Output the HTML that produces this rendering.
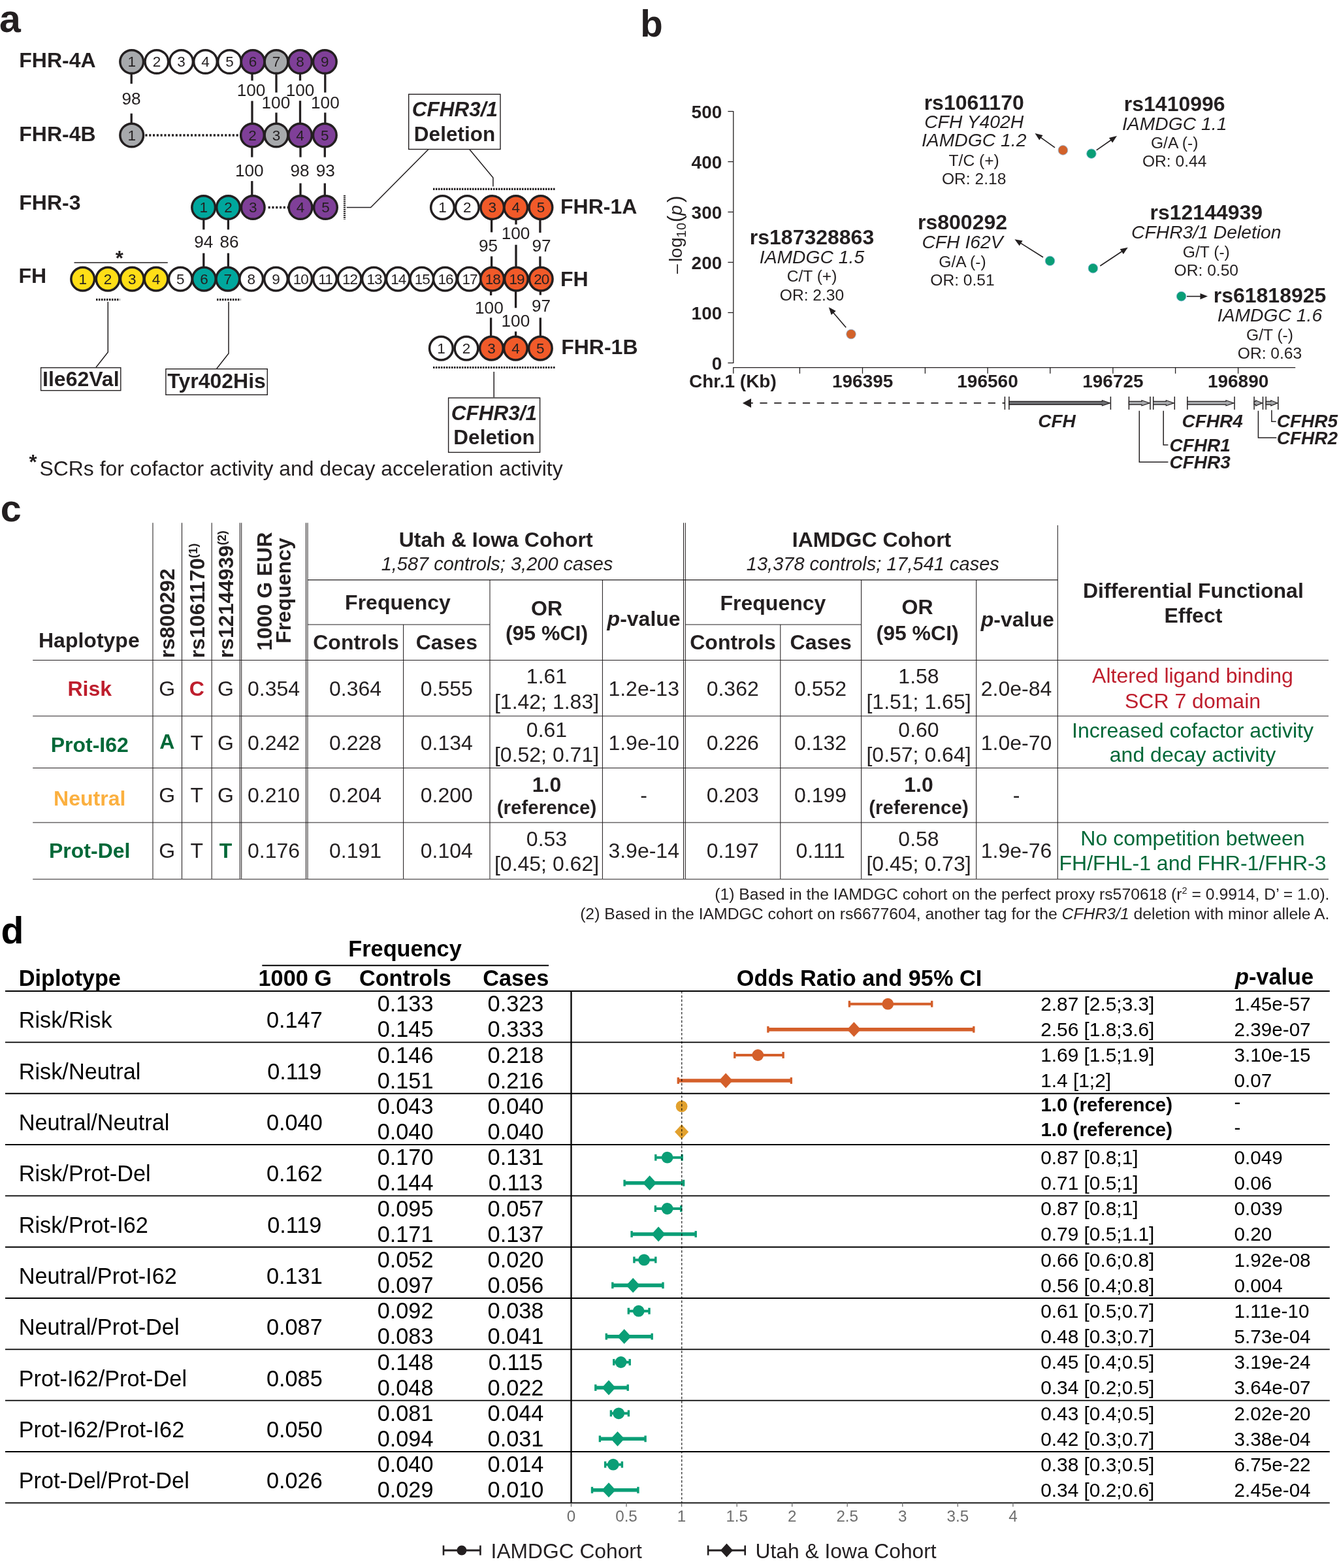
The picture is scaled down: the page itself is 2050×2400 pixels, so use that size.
<!DOCTYPE html>
<html lang="en">
<head>
<meta charset="utf-8">
<title>Figure</title>
<style>
html,body{margin:0;padding:0;background:#fff;}
body{width:2050px;height:2400px;overflow:hidden;}
svg{display:block;font-family:"Liberation Sans",sans-serif;fill:#231f20;}
</style>
</head>
<body>
<svg width="2050" height="2400" viewBox="0 0 2050 2400">
<rect x="0" y="0" width="2050" height="2400" fill="#ffffff" stroke="none"/>
<g id="panel-a">
<text x="-1.0" y="48.8" font-size="59" font-weight="bold">a</text>
<text x="29.3" y="102.8" font-size="32" font-weight="bold">FHR-4A</text>
<text x="29.3" y="216.2" font-size="32" font-weight="bold">FHR-4B</text>
<text x="29.3" y="320.5" font-size="32" font-weight="bold">FHR-3</text>
<text x="28.5" y="432.7" font-size="32" font-weight="bold">FH</text>
<text x="858.0" y="327.2" font-size="32" font-weight="bold">FHR-1A</text>
<text x="858.0" y="438.2" font-size="32" font-weight="bold">FH</text>
<text x="859.2" y="541.5" font-size="32" font-weight="bold">FHR-1B</text>
<line x1="201.2" y1="110.0" x2="201.2" y2="128.2" stroke="#231f20" stroke-width="3.3"/>
<text x="201.1" y="160.0" font-size="26.2" text-anchor="middle">98</text>
<line x1="201.2" y1="173.7" x2="201.2" y2="190.0" stroke="#231f20" stroke-width="3.3"/>
<line x1="386.0" y1="110.0" x2="386.0" y2="123.4" stroke="#231f20" stroke-width="3.3"/>
<text x="384.6" y="147.4" font-size="26.2" text-anchor="middle">100</text>
<line x1="386.0" y1="154.5" x2="386.0" y2="190.0" stroke="#231f20" stroke-width="3.3"/>
<line x1="423.0" y1="110.0" x2="423.0" y2="141.6" stroke="#231f20" stroke-width="3.3"/>
<text x="422.4" y="166.0" font-size="26.2" text-anchor="middle">100</text>
<line x1="423.0" y1="172.4" x2="423.0" y2="190.0" stroke="#231f20" stroke-width="3.3"/>
<line x1="459.5" y1="110.0" x2="459.5" y2="123.4" stroke="#231f20" stroke-width="3.3"/>
<text x="459.5" y="147.4" font-size="26.2" text-anchor="middle">100</text>
<line x1="459.5" y1="154.2" x2="459.5" y2="190.0" stroke="#231f20" stroke-width="3.3"/>
<line x1="497.8" y1="110.0" x2="497.8" y2="141.6" stroke="#231f20" stroke-width="3.3"/>
<text x="497.9" y="166.0" font-size="26.2" text-anchor="middle">100</text>
<line x1="497.8" y1="172.4" x2="497.8" y2="190.0" stroke="#231f20" stroke-width="3.3"/>
<line x1="385.8" y1="222.0" x2="385.8" y2="240.6" stroke="#231f20" stroke-width="3.3"/>
<text x="381.8" y="270.3" font-size="26.2" text-anchor="middle">100</text>
<line x1="385.8" y1="277.1" x2="385.8" y2="300.0" stroke="#231f20" stroke-width="3.3"/>
<line x1="460.0" y1="222.0" x2="460.0" y2="240.6" stroke="#231f20" stroke-width="3.3"/>
<text x="459.0" y="270.3" font-size="26.2" text-anchor="middle">98</text>
<line x1="460.0" y1="280.5" x2="460.0" y2="300.0" stroke="#231f20" stroke-width="3.3"/>
<line x1="497.3" y1="222.0" x2="497.3" y2="240.6" stroke="#231f20" stroke-width="3.3"/>
<text x="498.2" y="270.3" font-size="26.2" text-anchor="middle">93</text>
<line x1="497.3" y1="280.5" x2="497.3" y2="300.0" stroke="#231f20" stroke-width="3.3"/>
<line x1="311.8" y1="333.0" x2="311.8" y2="351.4" stroke="#231f20" stroke-width="3.3"/>
<text x="311.7" y="378.9" font-size="26.2" text-anchor="middle">94</text>
<line x1="311.8" y1="387.5" x2="311.8" y2="410.0" stroke="#231f20" stroke-width="3.3"/>
<line x1="349.4" y1="333.0" x2="349.4" y2="351.4" stroke="#231f20" stroke-width="3.3"/>
<text x="351.0" y="378.9" font-size="26.2" text-anchor="middle">86</text>
<line x1="349.4" y1="387.5" x2="349.4" y2="410.0" stroke="#231f20" stroke-width="3.3"/>
<line x1="752.6" y1="333.0" x2="752.6" y2="355.5" stroke="#231f20" stroke-width="3.3"/>
<text x="747.6" y="385.3" font-size="26.2" text-anchor="middle">95</text>
<line x1="752.6" y1="392.4" x2="752.6" y2="410.0" stroke="#231f20" stroke-width="3.3"/>
<line x1="790.0" y1="333.0" x2="790.0" y2="343.6" stroke="#231f20" stroke-width="3.3"/>
<text x="789.5" y="365.5" font-size="26.2" text-anchor="middle">100</text>
<line x1="790.0" y1="374.7" x2="790.0" y2="410.0" stroke="#231f20" stroke-width="3.3"/>
<line x1="826.9" y1="333.0" x2="826.9" y2="356.2" stroke="#231f20" stroke-width="3.3"/>
<text x="829.0" y="385.3" font-size="26.2" text-anchor="middle">97</text>
<line x1="826.9" y1="392.4" x2="826.9" y2="410.0" stroke="#231f20" stroke-width="3.3"/>
<line x1="751.6" y1="442.0" x2="751.6" y2="452.1" stroke="#231f20" stroke-width="3.3"/>
<text x="748.9" y="480.3" font-size="26.2" text-anchor="middle">100</text>
<line x1="751.6" y1="486.3" x2="751.6" y2="518.0" stroke="#231f20" stroke-width="3.3"/>
<line x1="789.6" y1="442.0" x2="789.6" y2="471.3" stroke="#231f20" stroke-width="3.3"/>
<text x="789.4" y="500.1" font-size="26.2" text-anchor="middle">100</text>
<line x1="789.6" y1="507.4" x2="789.6" y2="518.0" stroke="#231f20" stroke-width="3.3"/>
<line x1="827.3" y1="442.0" x2="827.3" y2="451.6" stroke="#231f20" stroke-width="3.3"/>
<text x="828.6" y="477.0" font-size="26.2" text-anchor="middle">97</text>
<line x1="827.3" y1="486.3" x2="827.3" y2="518.0" stroke="#231f20" stroke-width="3.3"/>
<line x1="222.4" y1="207.0" x2="368.0" y2="207.0" stroke="#231f20" stroke-width="3.3" stroke-dasharray="3.1 2.7"/>
<line x1="410.6" y1="317.5" x2="441.5" y2="317.5" stroke="#231f20" stroke-width="3.3" stroke-dasharray="3.1 2.7"/>
<line x1="527.5" y1="299.0" x2="527.5" y2="335.8" stroke="#231f20" stroke-width="3.2" stroke-dasharray="1.8 1.2"/>
<line x1="663.0" y1="289.4" x2="850.0" y2="289.4" stroke="#231f20" stroke-width="3.2" stroke-dasharray="2.5 1.5"/>
<line x1="663.0" y1="562.5" x2="850.0" y2="562.5" stroke="#231f20" stroke-width="3.2" stroke-dasharray="2.5 1.5"/>
<line x1="147.0" y1="458.6" x2="183.5" y2="458.6" stroke="#231f20" stroke-width="3.2" stroke-dasharray="2.5 1.5"/>
<line x1="332.0" y1="458.6" x2="368.5" y2="458.6" stroke="#231f20" stroke-width="3.2" stroke-dasharray="2.5 1.5"/>
<path d="M530.7 317.5 L567.6 317.5 L656 228.5" stroke="#231f20" stroke-width="1.5" fill="none"/>
<path d="M718.7 228.5 L754.9 272 L754.9 285.4" stroke="#231f20" stroke-width="1.5" fill="none"/>
<path d="M756.2 568.9 L756.2 608" stroke="#231f20" stroke-width="1.5" fill="none"/>
<path d="M165.3 462 L165.3 539 L147 562.3" stroke="#231f20" stroke-width="1.5" fill="none"/>
<path d="M350 462 L350 541 L331.4 564.7" stroke="#231f20" stroke-width="1.5" fill="none"/>
<line x1="113.5" y1="402.0" x2="256.8" y2="402.0" stroke="#231f20" stroke-width="1.6"/>
<text x="182.9" y="405.5" font-size="31" font-weight="bold" text-anchor="middle">*</text>
<rect x="625.7" y="144.3" width="140.3" height="84.2" fill="#fff" stroke="#231f20" stroke-width="1.4"/>
<text x="696.5" y="178.0" font-size="31.5" font-weight="bold" font-style="italic" text-anchor="middle">CFHR3/1</text>
<text x="696.0" y="215.5" font-size="31.5" font-weight="bold" text-anchor="middle">Deletion</text>
<rect x="686.6" y="609.0" width="140.0" height="83.4" fill="#fff" stroke="#231f20" stroke-width="1.4"/>
<text x="756.5" y="642.6" font-size="31.5" font-weight="bold" font-style="italic" text-anchor="middle">CFHR3/1</text>
<text x="756.5" y="680.0" font-size="31.5" font-weight="bold" text-anchor="middle">Deletion</text>
<rect x="62.6" y="562.8" width="122.2" height="34.9" fill="#fff" stroke="#231f20" stroke-width="1.4"/>
<text x="123.8" y="591.2" font-size="32" font-weight="bold" text-anchor="middle">Ile62Val</text>
<rect x="253.9" y="564.7" width="155.4" height="39.6" fill="#fff" stroke="#231f20" stroke-width="1.4"/>
<text x="331.6" y="594.0" font-size="32" font-weight="bold" text-anchor="middle">Tyr402His</text>
<circle cx="201.7" cy="94.5" r="17.85" fill="#a7a9ac" stroke="#231f20" stroke-width="3.5"/>
<text x="201.7" y="102.2" font-size="22.5" text-anchor="middle">1</text>
<circle cx="239.9" cy="94.5" r="17.85" fill="#ffffff" stroke="#231f20" stroke-width="3.5"/>
<text x="239.9" y="102.2" font-size="22.5" text-anchor="middle">2</text>
<circle cx="277.6" cy="94.5" r="17.85" fill="#ffffff" stroke="#231f20" stroke-width="3.5"/>
<text x="277.6" y="102.2" font-size="22.5" text-anchor="middle">3</text>
<circle cx="314.5" cy="94.5" r="17.85" fill="#ffffff" stroke="#231f20" stroke-width="3.5"/>
<text x="314.5" y="102.2" font-size="22.5" text-anchor="middle">4</text>
<circle cx="351.5" cy="94.5" r="17.85" fill="#ffffff" stroke="#231f20" stroke-width="3.5"/>
<text x="351.5" y="102.2" font-size="22.5" text-anchor="middle">5</text>
<circle cx="387.1" cy="94.5" r="17.85" fill="#7f3f98" stroke="#231f20" stroke-width="3.5"/>
<text x="387.1" y="102.2" font-size="22.5" text-anchor="middle">6</text>
<circle cx="423.0" cy="94.5" r="17.85" fill="#a7a9ac" stroke="#231f20" stroke-width="3.5"/>
<text x="423.0" y="102.2" font-size="22.5" text-anchor="middle">7</text>
<circle cx="459.5" cy="94.5" r="17.85" fill="#7f3f98" stroke="#231f20" stroke-width="3.5"/>
<text x="459.5" y="102.2" font-size="22.5" text-anchor="middle">8</text>
<circle cx="497.3" cy="94.5" r="17.85" fill="#7f3f98" stroke="#231f20" stroke-width="3.5"/>
<text x="497.3" y="102.2" font-size="22.5" text-anchor="middle">9</text>
<circle cx="201.7" cy="207.0" r="17.85" fill="#a7a9ac" stroke="#231f20" stroke-width="3.5"/>
<text x="201.7" y="214.7" font-size="22.5" text-anchor="middle">1</text>
<circle cx="386.5" cy="207.0" r="17.85" fill="#7f3f98" stroke="#231f20" stroke-width="3.5"/>
<text x="386.5" y="214.7" font-size="22.5" text-anchor="middle">2</text>
<circle cx="423.0" cy="207.0" r="17.85" fill="#a7a9ac" stroke="#231f20" stroke-width="3.5"/>
<text x="423.0" y="214.7" font-size="22.5" text-anchor="middle">3</text>
<circle cx="459.5" cy="207.0" r="17.85" fill="#7f3f98" stroke="#231f20" stroke-width="3.5"/>
<text x="459.5" y="214.7" font-size="22.5" text-anchor="middle">4</text>
<circle cx="497.3" cy="207.0" r="17.85" fill="#7f3f98" stroke="#231f20" stroke-width="3.5"/>
<text x="497.3" y="214.7" font-size="22.5" text-anchor="middle">5</text>
<circle cx="311.7" cy="317.5" r="17.85" fill="#00a79d" stroke="#231f20" stroke-width="3.5"/>
<text x="311.7" y="325.2" font-size="22.5" text-anchor="middle">1</text>
<circle cx="349.5" cy="317.5" r="17.85" fill="#00a79d" stroke="#231f20" stroke-width="3.5"/>
<text x="349.5" y="325.2" font-size="22.5" text-anchor="middle">2</text>
<circle cx="387.2" cy="317.5" r="17.85" fill="#7f3f98" stroke="#231f20" stroke-width="3.5"/>
<text x="387.2" y="325.2" font-size="22.5" text-anchor="middle">3</text>
<circle cx="460.0" cy="317.5" r="17.85" fill="#7f3f98" stroke="#231f20" stroke-width="3.5"/>
<text x="460.0" y="325.2" font-size="22.5" text-anchor="middle">4</text>
<circle cx="498.4" cy="317.5" r="17.85" fill="#7f3f98" stroke="#231f20" stroke-width="3.5"/>
<text x="498.4" y="325.2" font-size="22.5" text-anchor="middle">5</text>
<circle cx="126.7" cy="427.1" r="17.85" fill="#ffde17" stroke="#231f20" stroke-width="3.5"/>
<text x="126.7" y="434.8" font-size="22.5" text-anchor="middle">1</text>
<circle cx="165.1" cy="427.1" r="17.85" fill="#ffde17" stroke="#231f20" stroke-width="3.5"/>
<text x="165.1" y="434.8" font-size="22.5" text-anchor="middle">2</text>
<circle cx="202.3" cy="427.1" r="17.85" fill="#ffde17" stroke="#231f20" stroke-width="3.5"/>
<text x="202.3" y="434.8" font-size="22.5" text-anchor="middle">3</text>
<circle cx="239.0" cy="427.1" r="17.85" fill="#ffde17" stroke="#231f20" stroke-width="3.5"/>
<text x="239.0" y="434.8" font-size="22.5" text-anchor="middle">4</text>
<circle cx="276.3" cy="427.1" r="17.85" fill="#ffffff" stroke="#231f20" stroke-width="3.5"/>
<text x="276.3" y="434.8" font-size="22.5" text-anchor="middle">5</text>
<circle cx="312.4" cy="427.1" r="17.85" fill="#00a79d" stroke="#231f20" stroke-width="3.5"/>
<text x="312.4" y="434.8" font-size="22.5" text-anchor="middle">6</text>
<circle cx="348.8" cy="427.1" r="17.85" fill="#00a79d" stroke="#231f20" stroke-width="3.5"/>
<text x="348.8" y="434.8" font-size="22.5" text-anchor="middle">7</text>
<circle cx="384.7" cy="427.1" r="17.85" fill="#ffffff" stroke="#231f20" stroke-width="3.5"/>
<text x="384.7" y="434.8" font-size="22.5" text-anchor="middle">8</text>
<circle cx="422.5" cy="427.1" r="17.85" fill="#ffffff" stroke="#231f20" stroke-width="3.5"/>
<text x="422.5" y="434.8" font-size="22.5" text-anchor="middle">9</text>
<circle cx="459.7" cy="427.1" r="17.85" fill="#ffffff" stroke="#231f20" stroke-width="3.5"/>
<text x="460.2" y="434.8" font-size="22.5" text-anchor="middle" letter-spacing="-1">10</text>
<circle cx="497.5" cy="427.1" r="17.85" fill="#ffffff" stroke="#231f20" stroke-width="3.5"/>
<text x="498.0" y="434.8" font-size="22.5" text-anchor="middle" letter-spacing="-1">11</text>
<circle cx="535.1" cy="427.1" r="17.85" fill="#ffffff" stroke="#231f20" stroke-width="3.5"/>
<text x="535.6" y="434.8" font-size="22.5" text-anchor="middle" letter-spacing="-1">12</text>
<circle cx="572.4" cy="427.1" r="17.85" fill="#ffffff" stroke="#231f20" stroke-width="3.5"/>
<text x="572.9" y="434.8" font-size="22.5" text-anchor="middle" letter-spacing="-1">13</text>
<circle cx="609.3" cy="427.1" r="17.85" fill="#ffffff" stroke="#231f20" stroke-width="3.5"/>
<text x="609.8" y="434.8" font-size="22.5" text-anchor="middle" letter-spacing="-1">14</text>
<circle cx="645.8" cy="427.1" r="17.85" fill="#ffffff" stroke="#231f20" stroke-width="3.5"/>
<text x="646.3" y="434.8" font-size="22.5" text-anchor="middle" letter-spacing="-1">15</text>
<circle cx="681.4" cy="427.1" r="17.85" fill="#ffffff" stroke="#231f20" stroke-width="3.5"/>
<text x="681.9" y="434.8" font-size="22.5" text-anchor="middle" letter-spacing="-1">16</text>
<circle cx="718.4" cy="427.1" r="17.85" fill="#ffffff" stroke="#231f20" stroke-width="3.5"/>
<text x="718.9" y="434.8" font-size="22.5" text-anchor="middle" letter-spacing="-1">17</text>
<circle cx="753.7" cy="427.1" r="17.85" fill="#f15a29" stroke="#231f20" stroke-width="3.5"/>
<text x="754.2" y="434.8" font-size="22.5" text-anchor="middle" letter-spacing="-1">18</text>
<circle cx="790.4" cy="427.1" r="17.85" fill="#f15a29" stroke="#231f20" stroke-width="3.5"/>
<text x="790.9" y="434.8" font-size="22.5" text-anchor="middle" letter-spacing="-1">19</text>
<circle cx="828.2" cy="427.1" r="17.85" fill="#f15a29" stroke="#231f20" stroke-width="3.5"/>
<text x="828.7" y="434.8" font-size="22.5" text-anchor="middle" letter-spacing="-1">20</text>
<circle cx="677.5" cy="317.6" r="17.85" fill="#ffffff" stroke="#231f20" stroke-width="3.5"/>
<text x="677.5" y="325.3" font-size="22.5" text-anchor="middle">1</text>
<circle cx="715.3" cy="317.6" r="17.85" fill="#ffffff" stroke="#231f20" stroke-width="3.5"/>
<text x="715.3" y="325.3" font-size="22.5" text-anchor="middle">2</text>
<circle cx="753.7" cy="317.6" r="17.85" fill="#f15a29" stroke="#231f20" stroke-width="3.5"/>
<text x="753.7" y="325.3" font-size="22.5" text-anchor="middle">3</text>
<circle cx="789.8" cy="317.6" r="17.85" fill="#f15a29" stroke="#231f20" stroke-width="3.5"/>
<text x="789.8" y="325.3" font-size="22.5" text-anchor="middle">4</text>
<circle cx="827.9" cy="317.6" r="17.85" fill="#f15a29" stroke="#231f20" stroke-width="3.5"/>
<text x="827.9" y="325.3" font-size="22.5" text-anchor="middle">5</text>
<circle cx="675.4" cy="533.2" r="17.85" fill="#ffffff" stroke="#231f20" stroke-width="3.5"/>
<text x="675.4" y="540.9" font-size="22.5" text-anchor="middle">1</text>
<circle cx="714.0" cy="533.2" r="17.85" fill="#ffffff" stroke="#231f20" stroke-width="3.5"/>
<text x="714.0" y="540.9" font-size="22.5" text-anchor="middle">2</text>
<circle cx="752.4" cy="533.2" r="17.85" fill="#f15a29" stroke="#231f20" stroke-width="3.5"/>
<text x="752.4" y="540.9" font-size="22.5" text-anchor="middle">3</text>
<circle cx="789.4" cy="533.2" r="17.85" fill="#f15a29" stroke="#231f20" stroke-width="3.5"/>
<text x="789.4" y="540.9" font-size="22.5" text-anchor="middle">4</text>
<circle cx="827.3" cy="533.2" r="17.85" fill="#f15a29" stroke="#231f20" stroke-width="3.5"/>
<text x="827.3" y="540.9" font-size="22.5" text-anchor="middle">5</text>
<text x="44.5" y="718.2" font-size="31" font-weight="bold">*</text>
<text x="60.5" y="727.6" font-size="31.9">SCRs for cofactor activity and decay acceleration activity</text>
</g>
<g id="panel-b">
<text x="980.3" y="55.6" font-size="56.5" font-weight="bold">b</text>
<line x1="1122.8" y1="169.9" x2="1122.8" y2="556.1" stroke="#231f20" stroke-width="1.3"/>
<line x1="1114.4" y1="170.5" x2="1122.8" y2="170.5" stroke="#231f20" stroke-width="1.3"/>
<text x="1105.3" y="180.7" font-size="28" font-weight="bold" text-anchor="end">500</text>
<line x1="1114.4" y1="247.5" x2="1122.8" y2="247.5" stroke="#231f20" stroke-width="1.3"/>
<text x="1105.3" y="257.7" font-size="28" font-weight="bold" text-anchor="end">400</text>
<line x1="1114.4" y1="324.5" x2="1122.8" y2="324.5" stroke="#231f20" stroke-width="1.3"/>
<text x="1105.3" y="334.7" font-size="28" font-weight="bold" text-anchor="end">300</text>
<line x1="1114.4" y1="401.5" x2="1122.8" y2="401.5" stroke="#231f20" stroke-width="1.3"/>
<text x="1105.3" y="411.7" font-size="28" font-weight="bold" text-anchor="end">200</text>
<line x1="1114.4" y1="478.5" x2="1122.8" y2="478.5" stroke="#231f20" stroke-width="1.3"/>
<text x="1105.3" y="488.7" font-size="28" font-weight="bold" text-anchor="end">100</text>
<line x1="1114.4" y1="555.5" x2="1122.8" y2="555.5" stroke="#231f20" stroke-width="1.3"/>
<text x="1105.3" y="565.7" font-size="28" font-weight="bold" text-anchor="end">0</text>
<line x1="1122.2" y1="562.7" x2="1983.2" y2="562.7" stroke="#231f20" stroke-width="1.3"/>
<line x1="1122.8" y1="562.7" x2="1122.8" y2="571.8" stroke="#231f20" stroke-width="1.3"/>
<line x1="1224.4" y1="562.7" x2="1224.4" y2="571.8" stroke="#231f20" stroke-width="1.3"/>
<line x1="1320.5" y1="562.7" x2="1320.5" y2="571.8" stroke="#231f20" stroke-width="1.3"/>
<line x1="1416.4" y1="562.7" x2="1416.4" y2="571.8" stroke="#231f20" stroke-width="1.3"/>
<line x1="1512.1" y1="562.7" x2="1512.1" y2="571.8" stroke="#231f20" stroke-width="1.3"/>
<line x1="1607.8" y1="562.7" x2="1607.8" y2="571.8" stroke="#231f20" stroke-width="1.3"/>
<line x1="1703.9" y1="562.7" x2="1703.9" y2="571.8" stroke="#231f20" stroke-width="1.3"/>
<line x1="1799.6" y1="562.7" x2="1799.6" y2="571.8" stroke="#231f20" stroke-width="1.3"/>
<line x1="1895.6" y1="562.7" x2="1895.6" y2="571.8" stroke="#231f20" stroke-width="1.3"/>
<text x="1055.0" y="593.4" font-size="28" font-weight="bold">Chr.1 (Kb)</text>
<text x="1320.7" y="593.4" font-size="28" font-weight="bold" text-anchor="middle">196395</text>
<text x="1512.0" y="593.4" font-size="28" font-weight="bold" text-anchor="middle">196560</text>
<text x="1703.9" y="593.4" font-size="28" font-weight="bold" text-anchor="middle">196725</text>
<text x="1895.6" y="593.4" font-size="28" font-weight="bold" text-anchor="middle">196890</text>
<g transform="translate(1044.4 419.2) rotate(-90)">
<text x="0.3" y="0" font-size="26">–</text>
<text x="18.5" y="0" font-size="28.3">l</text>
<text x="24.1" y="0" font-size="28.3">o</text>
<text x="40.3" y="0" font-size="28.3">g</text>
<text x="55.5" y="5.4" font-size="20">1</text>
<text x="67.3" y="5.4" font-size="20">0</text>
<text x="79.0" y="0" font-size="31.5">(</text>
<text x="89.4" y="0" font-size="28.3" font-style="italic">p</text>
<text x="109.2" y="0" font-size="31.5">)</text>
</g>
<circle cx="1303.0" cy="511.5" r="7.3" fill="#d2622a" stroke="#8fb8dc" stroke-width="0.8"/>
<circle cx="1627.4" cy="229.9" r="7.3" fill="#d2622a" stroke="#8fb8dc" stroke-width="0.8"/>
<circle cx="1670.9" cy="235.2" r="7.3" fill="#0a9e76" stroke="#8fb8dc" stroke-width="0.8"/>
<circle cx="1607.5" cy="399.3" r="7.3" fill="#0a9e76" stroke="#8fb8dc" stroke-width="0.8"/>
<circle cx="1673.4" cy="410.7" r="7.3" fill="#0a9e76" stroke="#8fb8dc" stroke-width="0.8"/>
<circle cx="1808.6" cy="453.6" r="7.3" fill="#0a9e76" stroke="#8fb8dc" stroke-width="0.8"/>
<line x1="1295.2" y1="501.3" x2="1274.9" y2="477.4" stroke="#231f20" stroke-width="1.6"/>
<polygon points="1268.8,470.2 1279.7,476.0 1272.7,481.9" fill="#231f20"/>
<line x1="1615.0" y1="225.9" x2="1592.2" y2="209.6" stroke="#231f20" stroke-width="1.6"/>
<polygon points="1584.5,204.1 1596.5,207.0 1591.2,214.5" fill="#231f20"/>
<line x1="1678.7" y1="229.9" x2="1702.2" y2="213.5" stroke="#231f20" stroke-width="1.6"/>
<polygon points="1710.0,208.1 1703.2,218.4 1697.9,210.9" fill="#231f20"/>
<line x1="1597.0" y1="393.7" x2="1561.4" y2="371.4" stroke="#231f20" stroke-width="1.6"/>
<polygon points="1553.4,366.3 1565.6,368.5 1560.7,376.3" fill="#231f20"/>
<line x1="1684.3" y1="407.0" x2="1718.9" y2="384.0" stroke="#231f20" stroke-width="1.6"/>
<polygon points="1726.8,378.7 1719.8,388.9 1714.7,381.2" fill="#231f20"/>
<line x1="1817.0" y1="453.6" x2="1839.5" y2="453.6" stroke="#231f20" stroke-width="1.6"/>
<polygon points="1849.0,453.6 1837.5,458.2 1837.5,449.0" fill="#231f20"/>
<text x="1243.0" y="374.4" font-size="32" font-weight="bold" text-anchor="middle">rs187328863</text>
<text x="1243.0" y="403.0" font-size="28.3" font-style="italic" text-anchor="middle">IAMDGC 1.5</text>
<text x="1243.0" y="431.0" font-size="24.6" text-anchor="middle">C/T (+)</text>
<text x="1243.0" y="459.8" font-size="24.6" text-anchor="middle">OR: 2.30</text>
<text x="1491.2" y="167.7" font-size="32" font-weight="bold" text-anchor="middle">rs1061170</text>
<text x="1491.2" y="196.3" font-size="28.3" font-style="italic" text-anchor="middle">CFH Y402H</text>
<text x="1491.2" y="224.3" font-size="28.3" font-style="italic" text-anchor="middle">IAMDGC 1.2</text>
<text x="1491.2" y="253.8" font-size="24.6" text-anchor="middle">T/C (+)</text>
<text x="1491.2" y="281.8" font-size="24.6" text-anchor="middle">OR: 2.18</text>
<text x="1798.2" y="170.0" font-size="32" font-weight="bold" text-anchor="middle">rs1410996</text>
<text x="1798.2" y="198.8" font-size="28.3" font-style="italic" text-anchor="middle">IAMDGC 1.1</text>
<text x="1798.2" y="227.4" font-size="24.6" text-anchor="middle">G/A (-)</text>
<text x="1798.2" y="255.4" font-size="24.6" text-anchor="middle">OR: 0.44</text>
<text x="1473.5" y="351.0" font-size="32" font-weight="bold" text-anchor="middle">rs800292</text>
<text x="1473.5" y="379.7" font-size="28.3" font-style="italic" text-anchor="middle">CFH I62V</text>
<text x="1473.5" y="408.6" font-size="24.6" text-anchor="middle">G/A (-)</text>
<text x="1473.5" y="437.2" font-size="24.6" text-anchor="middle">OR: 0.51</text>
<text x="1846.8" y="336.2" font-size="32" font-weight="bold" text-anchor="middle">rs12144939</text>
<text x="1846.8" y="365.0" font-size="28.3" font-style="italic" text-anchor="middle">CFHR3/1 Deletion</text>
<text x="1846.8" y="393.7" font-size="24.6" text-anchor="middle">G/T (-)</text>
<text x="1846.8" y="421.6" font-size="24.6" text-anchor="middle">OR: 0.50</text>
<text x="1944.0" y="463.0" font-size="32" font-weight="bold" text-anchor="middle">rs61818925</text>
<text x="1944.0" y="491.5" font-size="28.3" font-style="italic" text-anchor="middle">IAMDGC 1.6</text>
<text x="1944.0" y="520.9" font-size="24.6" text-anchor="middle">G/T (-)</text>
<text x="1944.0" y="548.8" font-size="24.6" text-anchor="middle">OR: 0.63</text>
<line x1="1141.6" y1="616.9" x2="1538.4" y2="616.9" stroke="#231f20" stroke-width="1.6" stroke-dasharray="11.2 10.63"/>
<polygon points="1136.9,616.9 1150,609.9 1150,623.9" fill="#231f20"/>
<line x1="1538.4" y1="607.0" x2="1538.4" y2="627.0" stroke="#231f20" stroke-width="1.5"/>
<line x1="1544.9" y1="607.0" x2="1544.9" y2="627.0" stroke="#231f20" stroke-width="1.5"/>
<line x1="1700.4" y1="607.0" x2="1700.4" y2="627.0" stroke="#231f20" stroke-width="1.5"/>
<line x1="1728.4" y1="607.0" x2="1728.4" y2="627.0" stroke="#231f20" stroke-width="1.5"/>
<line x1="1761.0" y1="607.0" x2="1761.0" y2="627.0" stroke="#231f20" stroke-width="1.5"/>
<line x1="1765.7" y1="607.0" x2="1765.7" y2="627.0" stroke="#231f20" stroke-width="1.5"/>
<line x1="1798.3" y1="607.0" x2="1798.3" y2="627.0" stroke="#231f20" stroke-width="1.5"/>
<line x1="1817.9" y1="607.0" x2="1817.9" y2="627.0" stroke="#231f20" stroke-width="1.5"/>
<line x1="1890.0" y1="607.0" x2="1890.0" y2="627.0" stroke="#231f20" stroke-width="1.5"/>
<line x1="1920.1" y1="607.0" x2="1920.1" y2="627.0" stroke="#231f20" stroke-width="1.5"/>
<line x1="1933.5" y1="607.0" x2="1933.5" y2="627.0" stroke="#231f20" stroke-width="1.5"/>
<line x1="1938.2" y1="607.0" x2="1938.2" y2="627.0" stroke="#231f20" stroke-width="1.5"/>
<line x1="1956.8" y1="607.0" x2="1956.8" y2="627.0" stroke="#231f20" stroke-width="1.5"/>
<path d="M1544.9 614.4 L1687.4 614.4 L1687.4 612.8 L1699.4 616.9 L1687.4 621.0 L1687.4 619.4 L1544.9 619.4 Z" stroke="#231f20" stroke-width="1.2" fill="#6d6e71"/>
<path d="M1728.4 614.4 L1748.0 614.4 L1748.0 612.8 L1760.0 616.9 L1748.0 621.0 L1748.0 619.4 L1728.4 619.4 Z" stroke="#231f20" stroke-width="1.2" fill="#a7a9ac"/>
<path d="M1765.7 614.4 L1785.3 614.4 L1785.3 612.8 L1797.3 616.9 L1785.3 621.0 L1785.3 619.4 L1765.7 619.4 Z" stroke="#231f20" stroke-width="1.2" fill="#a7a9ac"/>
<path d="M1817.9 614.4 L1877.0 614.4 L1877.0 612.8 L1889.0 616.9 L1877.0 621.0 L1877.0 619.4 L1817.9 619.4 Z" stroke="#231f20" stroke-width="1.2" fill="#a7a9ac"/>
<path d="M1920.1 614.4 L1922.5 614.4 L1922.5 612.8 L1932.5 616.9 L1922.5 621.0 L1922.5 619.4 L1920.1 619.4 Z" stroke="#231f20" stroke-width="1.2" fill="#a7a9ac"/>
<path d="M1938.2 614.4 L1945.8 614.4 L1945.8 612.8 L1955.8 616.9 L1945.8 621.0 L1945.8 619.4 L1938.2 619.4 Z" stroke="#231f20" stroke-width="1.2" fill="#a7a9ac"/>
<text x="1618.0" y="653.5" font-size="28" font-weight="bold" font-style="italic" text-anchor="middle">CFH</text>
<text x="1809.5" y="653.5" font-size="28" font-weight="bold" font-style="italic">CFHR4</text>
<text x="1790.5" y="690.6" font-size="28" font-weight="bold" font-style="italic">CFHR1</text>
<text x="1790.5" y="717.0" font-size="28" font-weight="bold" font-style="italic">CFHR3</text>
<text x="1954.8" y="653.5" font-size="28" font-weight="bold" font-style="italic">CFHR5</text>
<text x="1954.8" y="680.0" font-size="28" font-weight="bold" font-style="italic">CFHR2</text>
<path d="M1744.3 628.7 L1744.3 707.3 L1788.4 707.3" stroke="#231f20" stroke-width="1.5" fill="none"/>
<path d="M1781.2 628.7 L1781.2 680.9 L1788.4 680.9" stroke="#231f20" stroke-width="1.5" fill="none"/>
<path d="M1926.4 628.7 L1926.4 670 L1954.3 670" stroke="#231f20" stroke-width="1.5" fill="none"/>
<path d="M1946.9 627.8 L1946.9 645.2 L1953.7 645.2" stroke="#231f20" stroke-width="1.5" fill="none"/>
</g>
<g id="panel-c">
<text x="0.8" y="797.8" font-size="57.5" font-weight="bold">c</text>
<line x1="50.2" y1="1010.5" x2="2034.0" y2="1010.5" stroke="#231f20" stroke-width="1.1"/>
<line x1="50.2" y1="1096.0" x2="2034.0" y2="1096.0" stroke="#231f20" stroke-width="1.1"/>
<line x1="50.2" y1="1175.5" x2="2034.0" y2="1175.5" stroke="#231f20" stroke-width="1.1"/>
<line x1="50.2" y1="1259.0" x2="2034.0" y2="1259.0" stroke="#231f20" stroke-width="1.1"/>
<line x1="50.2" y1="1345.8" x2="2034.0" y2="1345.8" stroke="#231f20" stroke-width="1.1"/>
<line x1="471.0" y1="887.6" x2="1619.3" y2="887.6" stroke="#231f20" stroke-width="1.05"/>
<line x1="471.0" y1="956.0" x2="750.0" y2="956.0" stroke="#231f20" stroke-width="1.05"/>
<line x1="1049.3" y1="956.0" x2="1318.6" y2="956.0" stroke="#231f20" stroke-width="1.05"/>
<line x1="234.0" y1="800.2" x2="234.0" y2="1345.0" stroke="#231f20" stroke-width="1.05"/>
<line x1="278.5" y1="800.2" x2="278.5" y2="1345.0" stroke="#231f20" stroke-width="1.05"/>
<line x1="324.2" y1="800.2" x2="324.2" y2="1345.0" stroke="#231f20" stroke-width="1.05"/>
<line x1="367.3" y1="800.2" x2="367.3" y2="1345.0" stroke="#231f20" stroke-width="1.05"/>
<line x1="369.7" y1="800.2" x2="369.7" y2="1345.0" stroke="#231f20" stroke-width="1.05"/>
<line x1="468.5" y1="800.2" x2="468.5" y2="1345.0" stroke="#231f20" stroke-width="1.05"/>
<line x1="471.0" y1="800.2" x2="471.0" y2="1345.0" stroke="#231f20" stroke-width="1.05"/>
<line x1="1046.5" y1="800.2" x2="1046.5" y2="1345.0" stroke="#231f20" stroke-width="1.05"/>
<line x1="1049.3" y1="800.2" x2="1049.3" y2="1345.0" stroke="#231f20" stroke-width="1.05"/>
<line x1="1619.3" y1="804.0" x2="1619.3" y2="1345.0" stroke="#231f20" stroke-width="1.05"/>
<line x1="750.0" y1="887.6" x2="750.0" y2="1345.0" stroke="#231f20" stroke-width="1.05"/>
<line x1="922.4" y1="887.6" x2="922.4" y2="1345.0" stroke="#231f20" stroke-width="1.05"/>
<line x1="1318.6" y1="887.6" x2="1318.6" y2="1345.0" stroke="#231f20" stroke-width="1.05"/>
<line x1="1494.7" y1="887.6" x2="1494.7" y2="1345.0" stroke="#231f20" stroke-width="1.05"/>
<line x1="617.6" y1="956.0" x2="617.6" y2="1345.0" stroke="#231f20" stroke-width="1.05"/>
<line x1="1194.8" y1="956.0" x2="1194.8" y2="1345.0" stroke="#231f20" stroke-width="1.05"/>
<text x="59.0" y="991.2" font-size="32" font-weight="bold">Haplotype</text>
<text x="266.6" y="1007.2" font-size="32" font-weight="bold" transform="rotate(-90 266.6 1007.2)">rs800292</text>
<text x="312.6" y="1007.2" font-size="32" font-weight="bold" transform="rotate(-90 312.6 1007.2)">rs1061170<tspan font-size="18.5" dy="-10.5">(1)</tspan></text>
<text x="356.9" y="1007.2" font-size="32" font-weight="bold" transform="rotate(-90 356.9 1007.2)">rs12144939<tspan font-size="18.5" dy="-10.5">(2)</tspan></text>
<text x="416.4" y="905.2" font-size="32" font-weight="bold" text-anchor="middle" transform="rotate(-90 416.4 905.2)">1000 G EUR</text>
<text x="445.2" y="904.0" font-size="32" font-weight="bold" text-anchor="middle" transform="rotate(-90 445.2 904.0)">Frequency</text>
<text x="759.2" y="837.0" font-size="32" font-weight="bold" text-anchor="middle">Utah &amp; Iowa Cohort</text>
<text x="761.0" y="872.6" font-size="29" font-style="italic" text-anchor="middle">1,587 controls; 3,200 cases</text>
<text x="1334.5" y="837.0" font-size="32" font-weight="bold" text-anchor="middle">IAMDGC Cohort</text>
<text x="1336.3" y="872.6" font-size="29" font-style="italic" text-anchor="middle">13,378 controls; 17,541 cases</text>
<text x="609.0" y="933.4" font-size="32" font-weight="bold" text-anchor="middle">Frequency</text>
<text x="545.0" y="993.6" font-size="32" font-weight="bold" text-anchor="middle">Controls</text>
<text x="683.8" y="993.6" font-size="32" font-weight="bold" text-anchor="middle">Cases</text>
<text x="837.0" y="941.8" font-size="32" font-weight="bold" text-anchor="middle">OR</text>
<text x="837.0" y="980.2" font-size="32" font-weight="bold" text-anchor="middle">(95 %CI)</text>
<text x="985.6" y="957.8" font-size="32" font-weight="bold" text-anchor="middle"><tspan font-style="italic">p</tspan>-value</text>
<text x="1183.4" y="934.2" font-size="32" font-weight="bold" text-anchor="middle">Frequency</text>
<text x="1122.0" y="994.4" font-size="32" font-weight="bold" text-anchor="middle">Controls</text>
<text x="1256.7" y="994.4" font-size="32" font-weight="bold" text-anchor="middle">Cases</text>
<text x="1404.6" y="940.0" font-size="32" font-weight="bold" text-anchor="middle">OR</text>
<text x="1404.6" y="979.8" font-size="32" font-weight="bold" text-anchor="middle">(95 %CI)</text>
<text x="1557.8" y="958.8" font-size="32" font-weight="bold" text-anchor="middle"><tspan font-style="italic">p</tspan>-value</text>
<text x="1826.9" y="915.0" font-size="32" font-weight="bold" text-anchor="middle">Differential Functional</text>
<text x="1826.9" y="953.3" font-size="32" font-weight="bold" text-anchor="middle">Effect</text>
<text x="137.2" y="1064.9" font-size="32" font-weight="bold" text-anchor="middle" fill="#be1e2d">Risk</text>
<text x="255.8" y="1065.3" font-size="32" text-anchor="middle">G</text>
<text x="301.3" y="1065.3" font-size="32" font-weight="bold" text-anchor="middle" fill="#be1e2d">C</text>
<text x="345.4" y="1065.3" font-size="32" text-anchor="middle">G</text>
<text x="419.1" y="1065.3" font-size="32" text-anchor="middle">0.354</text>
<text x="544.1" y="1065.3" font-size="32" text-anchor="middle">0.364</text>
<text x="683.8" y="1065.3" font-size="32" text-anchor="middle">0.555</text>
<text x="837.0" y="1046.2" font-size="32" text-anchor="middle">1.61</text>
<text x="837.0" y="1084.8" font-size="32" text-anchor="middle">[1.42; 1.83]</text>
<text x="985.7" y="1065.3" font-size="32" text-anchor="middle">1.2e-13</text>
<text x="1121.7" y="1065.3" font-size="32" text-anchor="middle">0.362</text>
<text x="1256.1" y="1065.3" font-size="32" text-anchor="middle">0.552</text>
<text x="1406.5" y="1046.2" font-size="32" text-anchor="middle">1.58</text>
<text x="1406.5" y="1084.8" font-size="32" text-anchor="middle">[1.51; 1.65]</text>
<text x="1556.0" y="1065.3" font-size="32" text-anchor="middle">2.0e-84</text>
<text x="1826.0" y="1045.3" font-size="32" text-anchor="middle" fill="#be1e2d">Altered ligand binding</text>
<text x="1826.0" y="1083.8" font-size="32" text-anchor="middle" fill="#be1e2d">SCR 7 domain</text>
<text x="137.2" y="1151.3" font-size="32" font-weight="bold" text-anchor="middle" fill="#006838">Prot-I62</text>
<text x="255.8" y="1145.7" font-size="32" font-weight="bold" text-anchor="middle" fill="#006838">A</text>
<text x="301.3" y="1147.7" font-size="32" text-anchor="middle">T</text>
<text x="345.4" y="1147.7" font-size="32" text-anchor="middle">G</text>
<text x="419.1" y="1147.7" font-size="32" text-anchor="middle">0.242</text>
<text x="544.1" y="1147.7" font-size="32" text-anchor="middle">0.228</text>
<text x="683.8" y="1147.7" font-size="32" text-anchor="middle">0.134</text>
<text x="837.0" y="1127.7" font-size="32" text-anchor="middle">0.61</text>
<text x="837.0" y="1166.0" font-size="32" text-anchor="middle">[0.52; 0.71]</text>
<text x="985.7" y="1147.7" font-size="32" text-anchor="middle">1.9e-10</text>
<text x="1121.7" y="1147.7" font-size="32" text-anchor="middle">0.226</text>
<text x="1256.1" y="1147.7" font-size="32" text-anchor="middle">0.132</text>
<text x="1406.5" y="1127.7" font-size="32" text-anchor="middle">0.60</text>
<text x="1406.5" y="1166.0" font-size="32" text-anchor="middle">[0.57; 0.64]</text>
<text x="1556.0" y="1147.7" font-size="32" text-anchor="middle">1.0e-70</text>
<text x="1826.0" y="1128.5" font-size="32" text-anchor="middle" fill="#006838">Increased cofactor activity</text>
<text x="1826.0" y="1166.4" font-size="32" text-anchor="middle" fill="#006838">and decay activity</text>
<text x="137.2" y="1232.5" font-size="32" font-weight="bold" text-anchor="middle" fill="#fbb040">Neutral</text>
<text x="255.8" y="1228.1" font-size="32" text-anchor="middle">G</text>
<text x="301.3" y="1228.1" font-size="32" text-anchor="middle">T</text>
<text x="345.4" y="1228.1" font-size="32" text-anchor="middle">G</text>
<text x="419.1" y="1228.1" font-size="32" text-anchor="middle">0.210</text>
<text x="544.1" y="1228.1" font-size="32" text-anchor="middle">0.204</text>
<text x="683.8" y="1228.1" font-size="32" text-anchor="middle">0.200</text>
<text x="837.0" y="1211.5" font-size="32" font-weight="bold" text-anchor="middle">1.0</text>
<text x="837.0" y="1246.3" font-size="29.5" font-weight="bold" text-anchor="middle">(reference)</text>
<text x="985.7" y="1228.1" font-size="32" text-anchor="middle">-</text>
<text x="1121.7" y="1228.1" font-size="32" text-anchor="middle">0.203</text>
<text x="1256.1" y="1228.1" font-size="32" text-anchor="middle">0.199</text>
<text x="1406.5" y="1211.5" font-size="32" font-weight="bold" text-anchor="middle">1.0</text>
<text x="1406.5" y="1246.3" font-size="29.5" font-weight="bold" text-anchor="middle">(reference)</text>
<text x="1556.0" y="1228.1" font-size="32" text-anchor="middle">-</text>
<text x="137.2" y="1312.7" font-size="32" font-weight="bold" text-anchor="middle" fill="#006838">Prot-Del</text>
<text x="255.8" y="1313.1" font-size="32" text-anchor="middle">G</text>
<text x="301.3" y="1313.1" font-size="32" text-anchor="middle">T</text>
<text x="345.4" y="1313.1" font-size="32" font-weight="bold" text-anchor="middle" fill="#006838">T</text>
<text x="419.1" y="1313.1" font-size="32" text-anchor="middle">0.176</text>
<text x="544.1" y="1313.1" font-size="32" text-anchor="middle">0.191</text>
<text x="683.8" y="1313.1" font-size="32" text-anchor="middle">0.104</text>
<text x="837.0" y="1294.6" font-size="32" text-anchor="middle">0.53</text>
<text x="837.0" y="1332.9" font-size="32" text-anchor="middle">[0.45; 0.62]</text>
<text x="985.7" y="1313.1" font-size="32" text-anchor="middle">3.9e-14</text>
<text x="1121.7" y="1313.1" font-size="32" text-anchor="middle">0.197</text>
<text x="1256.1" y="1313.1" font-size="32" text-anchor="middle">0.111</text>
<text x="1406.5" y="1294.6" font-size="32" text-anchor="middle">0.58</text>
<text x="1406.5" y="1332.9" font-size="32" text-anchor="middle">[0.45; 0.73]</text>
<text x="1556.0" y="1313.1" font-size="32" text-anchor="middle">1.9e-76</text>
<text x="1826.0" y="1294.3" font-size="32" text-anchor="middle" fill="#006838">No competition between</text>
<text x="1826.0" y="1332.3" font-size="32" text-anchor="middle" fill="#006838">FH/FHL-1 and FHR-1/FHR-3</text>
<text x="2035.5" y="1376.8" font-size="24.75" text-anchor="end">(1) Based in the IAMDGC cohort on the perfect proxy rs570618 (r<tspan font-size="14.5" dy="-8.5">2</tspan><tspan dy="8.5"> = 0.9914, D’ = 1.0).</tspan></text>
<text x="2035.5" y="1406.6" font-size="24.75" text-anchor="end">(2) Based in the IAMDGC cohort on rs6677604, another tag for the <tspan font-style="italic">CFHR3/1</tspan> deletion with minor allele A.</text>
</g>
<g id="panel-d" fill="#000">
<text x="1.5" y="1444.0" font-size="57" font-weight="bold">d</text>
<text x="620.0" y="1463.5" font-size="34.3" font-weight="bold" text-anchor="middle" fill="#000000">Frequency</text>
<line x1="401.3" y1="1477.7" x2="840.1" y2="1477.7" stroke="#000" stroke-width="2"/>
<text x="28.7" y="1509.3" font-size="34.3" font-weight="bold" fill="#000000">Diplotype</text>
<text x="451.8" y="1509.0" font-size="34.3" font-weight="bold" text-anchor="middle" fill="#000000">1000 G</text>
<text x="620.4" y="1509.0" font-size="34.3" font-weight="bold" text-anchor="middle" fill="#000000">Controls</text>
<text x="789.7" y="1509.0" font-size="34.3" font-weight="bold" text-anchor="middle" fill="#000000">Cases</text>
<text x="1315.5" y="1509.0" font-size="34.3" font-weight="bold" text-anchor="middle" fill="#000000">Odds Ratio and 95% CI</text>
<text x="1891" y="1506.5" font-size="34.3" font-weight="bold" fill="#000"><tspan font-style="italic">p</tspan>-value</text>
<line x1="8.0" y1="1517.0" x2="2035.8" y2="1517.0" stroke="#000" stroke-width="1.85"/>
<line x1="8.0" y1="1595.3" x2="2035.8" y2="1595.3" stroke="#000" stroke-width="1.85"/>
<line x1="8.0" y1="1673.7" x2="2035.8" y2="1673.7" stroke="#000" stroke-width="1.85"/>
<line x1="8.0" y1="1752.0" x2="2035.8" y2="1752.0" stroke="#000" stroke-width="1.85"/>
<line x1="8.0" y1="1830.3" x2="2035.8" y2="1830.3" stroke="#000" stroke-width="1.85"/>
<line x1="8.0" y1="1908.7" x2="2035.8" y2="1908.7" stroke="#000" stroke-width="1.85"/>
<line x1="8.0" y1="1987.0" x2="2035.8" y2="1987.0" stroke="#000" stroke-width="1.85"/>
<line x1="8.0" y1="2065.3" x2="2035.8" y2="2065.3" stroke="#000" stroke-width="1.85"/>
<line x1="8.0" y1="2143.6" x2="2035.8" y2="2143.6" stroke="#000" stroke-width="1.85"/>
<line x1="8.0" y1="2222.0" x2="2035.8" y2="2222.0" stroke="#000" stroke-width="1.85"/>
<line x1="8.0" y1="2300.3" x2="2035.8" y2="2300.3" stroke="#000" stroke-width="1.85"/>
<line x1="874.5" y1="1517.0" x2="874.5" y2="2300.3" stroke="#000" stroke-width="2.3"/>
<line x1="874.5" y1="2300.3" x2="874.5" y2="2306.3" stroke="#6e6e6e" stroke-width="1.3"/>
<text x="874.5" y="2329.3" font-size="24.2" text-anchor="middle" fill="#6e6e6e">0</text>
<line x1="959.0" y1="2300.3" x2="959.0" y2="2306.3" stroke="#6e6e6e" stroke-width="1.3"/>
<text x="959.0" y="2329.3" font-size="24.2" text-anchor="middle" fill="#6e6e6e">0.5</text>
<line x1="1043.6" y1="2300.3" x2="1043.6" y2="2306.3" stroke="#6e6e6e" stroke-width="1.3"/>
<text x="1043.6" y="2329.3" font-size="24.2" text-anchor="middle" fill="#6e6e6e">1</text>
<line x1="1128.2" y1="2300.3" x2="1128.2" y2="2306.3" stroke="#6e6e6e" stroke-width="1.3"/>
<text x="1128.2" y="2329.3" font-size="24.2" text-anchor="middle" fill="#6e6e6e">1.5</text>
<line x1="1212.7" y1="2300.3" x2="1212.7" y2="2306.3" stroke="#6e6e6e" stroke-width="1.3"/>
<text x="1212.7" y="2329.3" font-size="24.2" text-anchor="middle" fill="#6e6e6e">2</text>
<line x1="1297.2" y1="2300.3" x2="1297.2" y2="2306.3" stroke="#6e6e6e" stroke-width="1.3"/>
<text x="1297.2" y="2329.3" font-size="24.2" text-anchor="middle" fill="#6e6e6e">2.5</text>
<line x1="1381.8" y1="2300.3" x2="1381.8" y2="2306.3" stroke="#6e6e6e" stroke-width="1.3"/>
<text x="1381.8" y="2329.3" font-size="24.2" text-anchor="middle" fill="#6e6e6e">3</text>
<line x1="1466.3" y1="2300.3" x2="1466.3" y2="2306.3" stroke="#6e6e6e" stroke-width="1.3"/>
<text x="1466.3" y="2329.3" font-size="24.2" text-anchor="middle" fill="#6e6e6e">3.5</text>
<line x1="1550.9" y1="2300.3" x2="1550.9" y2="2306.3" stroke="#6e6e6e" stroke-width="1.3"/>
<text x="1550.9" y="2329.3" font-size="24.2" text-anchor="middle" fill="#6e6e6e">4</text>
<text x="28.7" y="1573.2" font-size="34.3" fill="#000000">Risk/Risk</text>
<text x="450.8" y="1573.2" font-size="34.3" text-anchor="middle" fill="#000000">0.147</text>
<text x="620.6" y="1548.2" font-size="34.3" text-anchor="middle" fill="#000000">0.133</text>
<text x="789.5" y="1548.2" font-size="34.3" text-anchor="middle" fill="#000000">0.323</text>
<text x="1593.2" y="1547.1" font-size="29.85" fill="#000000">2.87 [2.5;3.3]</text>
<text x="1889.6" y="1547.1" font-size="29.65" fill="#000000">1.45e-57</text>
<line x1="1300.0" y1="1536.7" x2="1427.1" y2="1536.7" stroke="#d45f2a" stroke-width="4.0"/>
<line x1="1300.4" y1="1531.8" x2="1300.4" y2="1541.6" stroke="#d45f2a" stroke-width="3.4"/>
<line x1="1426.7" y1="1531.8" x2="1426.7" y2="1541.6" stroke="#d45f2a" stroke-width="3.4"/>
<circle cx="1359.3" cy="1536.7" r="8.9" fill="#d45f2a"/>
<text x="620.6" y="1587.3" font-size="34.3" text-anchor="middle" fill="#000000">0.145</text>
<text x="789.5" y="1587.3" font-size="34.3" text-anchor="middle" fill="#000000">0.333</text>
<text x="1593.2" y="1585.9" font-size="29.85" fill="#000000">2.56 [1.8;3.6]</text>
<text x="1889.6" y="1585.9" font-size="29.65" fill="#000000">2.39e-07</text>
<line x1="1175.5" y1="1575.7" x2="1491.2" y2="1575.7" stroke="#d45f2a" stroke-width="5.6"/>
<line x1="1175.9" y1="1570.8" x2="1175.9" y2="1580.6" stroke="#d45f2a" stroke-width="3.4"/>
<line x1="1490.8" y1="1570.8" x2="1490.8" y2="1580.6" stroke="#d45f2a" stroke-width="3.4"/>
<polygon points="1296.8,1575.7 1307.4,1564.3 1318.0,1575.7 1307.4,1587.1" fill="#d45f2a"/>
<text x="28.7" y="1651.5" font-size="34.3" fill="#000000">Risk/Neutral</text>
<text x="450.8" y="1651.5" font-size="34.3" text-anchor="middle" fill="#000000">0.119</text>
<text x="620.6" y="1626.5" font-size="34.3" text-anchor="middle" fill="#000000">0.146</text>
<text x="789.5" y="1626.5" font-size="34.3" text-anchor="middle" fill="#000000">0.218</text>
<text x="1593.2" y="1625.4" font-size="29.85" fill="#000000">1.69 [1.5;1.9]</text>
<text x="1889.6" y="1625.4" font-size="29.65" fill="#000000">3.10e-15</text>
<line x1="1124.4" y1="1615.0" x2="1199.5" y2="1615.0" stroke="#d45f2a" stroke-width="4.0"/>
<line x1="1124.8" y1="1610.1" x2="1124.8" y2="1619.9" stroke="#d45f2a" stroke-width="3.4"/>
<line x1="1199.1" y1="1610.1" x2="1199.1" y2="1619.9" stroke="#d45f2a" stroke-width="3.4"/>
<circle cx="1160.3" cy="1615.0" r="8.9" fill="#d45f2a"/>
<text x="620.6" y="1665.6" font-size="34.3" text-anchor="middle" fill="#000000">0.151</text>
<text x="789.5" y="1665.6" font-size="34.3" text-anchor="middle" fill="#000000">0.216</text>
<text x="1593.2" y="1664.2" font-size="29.85" fill="#000000">1.4 [1;2]</text>
<text x="1889.6" y="1664.2" font-size="29.65" fill="#000000">0.07</text>
<line x1="1037.9" y1="1654.0" x2="1211.7" y2="1654.0" stroke="#d45f2a" stroke-width="5.6"/>
<line x1="1038.3" y1="1649.1" x2="1038.3" y2="1658.9" stroke="#d45f2a" stroke-width="3.4"/>
<line x1="1211.3" y1="1649.1" x2="1211.3" y2="1658.9" stroke="#d45f2a" stroke-width="3.4"/>
<polygon points="1100.6,1654.0 1111.2,1642.6 1121.8,1654.0 1111.2,1665.4" fill="#d45f2a"/>
<text x="28.7" y="1729.9" font-size="34.3" fill="#000000">Neutral/Neutral</text>
<text x="450.8" y="1729.9" font-size="34.3" text-anchor="middle" fill="#000000">0.040</text>
<text x="620.6" y="1704.9" font-size="34.3" text-anchor="middle" fill="#000000">0.043</text>
<text x="789.5" y="1704.9" font-size="34.3" text-anchor="middle" fill="#000000">0.040</text>
<text x="1593.4" y="1700.6" font-size="29.5" font-weight="bold" fill="#000000">1.0 (reference)</text>
<text x="1889.5" y="1697.3" font-size="29.5" fill="#000000">-</text>
<circle cx="1043.6" cy="1693.4" r="8.9" fill="#e2a12e"/>
<text x="620.6" y="1744.0" font-size="34.3" text-anchor="middle" fill="#000000">0.040</text>
<text x="789.5" y="1744.0" font-size="34.3" text-anchor="middle" fill="#000000">0.040</text>
<text x="1593.4" y="1739.4" font-size="29.5" font-weight="bold" fill="#000000">1.0 (reference)</text>
<text x="1889.5" y="1736.1" font-size="29.5" fill="#000000">-</text>
<polygon points="1033.0,1732.4 1043.6,1721.0 1054.2,1732.4 1043.6,1743.8" fill="#e2a12e"/>
<text x="28.7" y="1808.2" font-size="34.3" fill="#000000">Risk/Prot-Del</text>
<text x="450.8" y="1808.2" font-size="34.3" text-anchor="middle" fill="#000000">0.162</text>
<text x="620.6" y="1783.2" font-size="34.3" text-anchor="middle" fill="#000000">0.170</text>
<text x="789.5" y="1783.2" font-size="34.3" text-anchor="middle" fill="#000000">0.131</text>
<text x="1593.2" y="1782.1" font-size="29.85" fill="#000000">0.87 [0.8;1]</text>
<text x="1889.6" y="1782.1" font-size="29.65" fill="#000000">0.049</text>
<line x1="1003.4" y1="1771.7" x2="1044.6" y2="1771.7" stroke="#0a9e76" stroke-width="4.0"/>
<line x1="1003.8" y1="1766.8" x2="1003.8" y2="1776.6" stroke="#0a9e76" stroke-width="3.4"/>
<line x1="1044.2" y1="1766.8" x2="1044.2" y2="1776.6" stroke="#0a9e76" stroke-width="3.4"/>
<circle cx="1021.6" cy="1771.7" r="8.9" fill="#0a9e76"/>
<text x="620.6" y="1822.3" font-size="34.3" text-anchor="middle" fill="#000000">0.144</text>
<text x="789.5" y="1822.3" font-size="34.3" text-anchor="middle" fill="#000000">0.113</text>
<text x="1593.2" y="1820.9" font-size="29.85" fill="#000000">0.71 [0.5;1]</text>
<text x="1889.6" y="1820.9" font-size="29.65" fill="#000000">0.06</text>
<line x1="955.7" y1="1810.7" x2="1047.0" y2="1810.7" stroke="#0a9e76" stroke-width="5.6"/>
<line x1="956.1" y1="1805.8" x2="956.1" y2="1815.6" stroke="#0a9e76" stroke-width="3.4"/>
<line x1="1046.6" y1="1805.8" x2="1046.6" y2="1815.6" stroke="#0a9e76" stroke-width="3.4"/>
<polygon points="984.0,1810.7 994.6,1799.3 1005.2,1810.7 994.6,1822.1" fill="#0a9e76"/>
<text x="28.7" y="1886.5" font-size="34.3" fill="#000000">Risk/Prot-I62</text>
<text x="450.8" y="1886.5" font-size="34.3" text-anchor="middle" fill="#000000">0.119</text>
<text x="620.6" y="1861.5" font-size="34.3" text-anchor="middle" fill="#000000">0.095</text>
<text x="789.5" y="1861.5" font-size="34.3" text-anchor="middle" fill="#000000">0.057</text>
<text x="1593.2" y="1860.4" font-size="29.85" fill="#000000">0.87 [0.8;1]</text>
<text x="1889.6" y="1860.4" font-size="29.65" fill="#000000">0.039</text>
<line x1="1003.0" y1="1850.0" x2="1043.1" y2="1850.0" stroke="#0a9e76" stroke-width="4.0"/>
<line x1="1003.4" y1="1845.1" x2="1003.4" y2="1854.9" stroke="#0a9e76" stroke-width="3.4"/>
<line x1="1042.7" y1="1845.1" x2="1042.7" y2="1854.9" stroke="#0a9e76" stroke-width="3.4"/>
<circle cx="1021.6" cy="1850.0" r="8.9" fill="#0a9e76"/>
<text x="620.6" y="1900.6" font-size="34.3" text-anchor="middle" fill="#000000">0.171</text>
<text x="789.5" y="1900.6" font-size="34.3" text-anchor="middle" fill="#000000">0.137</text>
<text x="1593.2" y="1899.2" font-size="29.85" fill="#000000">0.79 [0.5;1.1]</text>
<text x="1889.6" y="1899.2" font-size="29.65" fill="#000000">0.20</text>
<line x1="966.7" y1="1889.0" x2="1065.6" y2="1889.0" stroke="#0a9e76" stroke-width="5.6"/>
<line x1="967.1" y1="1884.1" x2="967.1" y2="1893.9" stroke="#0a9e76" stroke-width="3.4"/>
<line x1="1065.2" y1="1884.1" x2="1065.2" y2="1893.9" stroke="#0a9e76" stroke-width="3.4"/>
<polygon points="997.5,1889.0 1008.1,1877.6 1018.7,1889.0 1008.1,1900.4" fill="#0a9e76"/>
<text x="28.7" y="1964.9" font-size="34.3" fill="#000000">Neutral/Prot-I62</text>
<text x="450.8" y="1964.9" font-size="34.3" text-anchor="middle" fill="#000000">0.131</text>
<text x="620.6" y="1939.9" font-size="34.3" text-anchor="middle" fill="#000000">0.052</text>
<text x="789.5" y="1939.9" font-size="34.3" text-anchor="middle" fill="#000000">0.020</text>
<text x="1593.2" y="1938.8" font-size="29.85" fill="#000000">0.66 [0.6;0.8]</text>
<text x="1889.6" y="1938.8" font-size="29.65" fill="#000000">1.92e-08</text>
<line x1="970.5" y1="1928.4" x2="1004.2" y2="1928.4" stroke="#0a9e76" stroke-width="4.0"/>
<line x1="970.9" y1="1923.5" x2="970.9" y2="1933.3" stroke="#0a9e76" stroke-width="3.4"/>
<line x1="1003.8" y1="1923.5" x2="1003.8" y2="1933.3" stroke="#0a9e76" stroke-width="3.4"/>
<circle cx="986.1" cy="1928.4" r="8.9" fill="#0a9e76"/>
<text x="620.6" y="1979.0" font-size="34.3" text-anchor="middle" fill="#000000">0.097</text>
<text x="789.5" y="1979.0" font-size="34.3" text-anchor="middle" fill="#000000">0.056</text>
<text x="1593.2" y="1977.6" font-size="29.85" fill="#000000">0.56 [0.4;0.8]</text>
<text x="1889.6" y="1977.6" font-size="29.65" fill="#000000">0.004</text>
<line x1="937.4" y1="1967.4" x2="1015.4" y2="1967.4" stroke="#0a9e76" stroke-width="5.6"/>
<line x1="937.8" y1="1962.5" x2="937.8" y2="1972.3" stroke="#0a9e76" stroke-width="3.4"/>
<line x1="1015.0" y1="1962.5" x2="1015.0" y2="1972.3" stroke="#0a9e76" stroke-width="3.4"/>
<polygon points="958.6,1967.4 969.2,1956.0 979.8,1967.4 969.2,1978.8" fill="#0a9e76"/>
<text x="28.7" y="2043.2" font-size="34.3" fill="#000000">Neutral/Prot-Del</text>
<text x="450.8" y="2043.2" font-size="34.3" text-anchor="middle" fill="#000000">0.087</text>
<text x="620.6" y="2018.2" font-size="34.3" text-anchor="middle" fill="#000000">0.092</text>
<text x="789.5" y="2018.2" font-size="34.3" text-anchor="middle" fill="#000000">0.038</text>
<text x="1593.2" y="2017.1" font-size="29.85" fill="#000000">0.61 [0.5;0.7]</text>
<text x="1889.6" y="2017.1" font-size="29.65" fill="#000000">1.11e-10</text>
<line x1="961.9" y1="2006.7" x2="994.4" y2="2006.7" stroke="#0a9e76" stroke-width="4.0"/>
<line x1="962.3" y1="2001.8" x2="962.3" y2="2011.6" stroke="#0a9e76" stroke-width="3.4"/>
<line x1="994.0" y1="2001.8" x2="994.0" y2="2011.6" stroke="#0a9e76" stroke-width="3.4"/>
<circle cx="977.7" cy="2006.7" r="8.9" fill="#0a9e76"/>
<text x="620.6" y="2057.3" font-size="34.3" text-anchor="middle" fill="#000000">0.083</text>
<text x="789.5" y="2057.3" font-size="34.3" text-anchor="middle" fill="#000000">0.041</text>
<text x="1593.2" y="2055.9" font-size="29.85" fill="#000000">0.48 [0.3;0.7]</text>
<text x="1889.6" y="2055.9" font-size="29.65" fill="#000000">5.73e-04</text>
<line x1="927.9" y1="2045.7" x2="998.6" y2="2045.7" stroke="#0a9e76" stroke-width="5.6"/>
<line x1="928.3" y1="2040.8" x2="928.3" y2="2050.6" stroke="#0a9e76" stroke-width="3.4"/>
<line x1="998.2" y1="2040.8" x2="998.2" y2="2050.6" stroke="#0a9e76" stroke-width="3.4"/>
<polygon points="945.1,2045.7 955.7,2034.3 966.3,2045.7 955.7,2057.1" fill="#0a9e76"/>
<text x="28.7" y="2121.5" font-size="34.3" fill="#000000">Prot-I62/Prot-Del</text>
<text x="450.8" y="2121.5" font-size="34.3" text-anchor="middle" fill="#000000">0.085</text>
<text x="620.6" y="2096.5" font-size="34.3" text-anchor="middle" fill="#000000">0.148</text>
<text x="789.5" y="2096.5" font-size="34.3" text-anchor="middle" fill="#000000">0.115</text>
<text x="1593.2" y="2095.4" font-size="29.85" fill="#000000">0.45 [0.4;0.5]</text>
<text x="1889.6" y="2095.4" font-size="29.65" fill="#000000">3.19e-24</text>
<line x1="939.4" y1="2085.0" x2="964.6" y2="2085.0" stroke="#0a9e76" stroke-width="4.0"/>
<line x1="939.8" y1="2080.1" x2="939.8" y2="2089.9" stroke="#0a9e76" stroke-width="3.4"/>
<line x1="964.2" y1="2080.1" x2="964.2" y2="2089.9" stroke="#0a9e76" stroke-width="3.4"/>
<circle cx="950.6" cy="2085.0" r="8.9" fill="#0a9e76"/>
<text x="620.6" y="2135.6" font-size="34.3" text-anchor="middle" fill="#000000">0.048</text>
<text x="789.5" y="2135.6" font-size="34.3" text-anchor="middle" fill="#000000">0.022</text>
<text x="1593.2" y="2134.2" font-size="29.85" fill="#000000">0.34 [0.2;0.5]</text>
<text x="1889.6" y="2134.2" font-size="29.65" fill="#000000">3.64e-07</text>
<line x1="911.4" y1="2124.0" x2="961.6" y2="2124.0" stroke="#0a9e76" stroke-width="5.6"/>
<line x1="911.8" y1="2119.1" x2="911.8" y2="2128.9" stroke="#0a9e76" stroke-width="3.4"/>
<line x1="961.2" y1="2119.1" x2="961.2" y2="2128.9" stroke="#0a9e76" stroke-width="3.4"/>
<polygon points="921.4,2124.0 932.0,2112.6 942.6,2124.0 932.0,2135.4" fill="#0a9e76"/>
<text x="28.7" y="2199.8" font-size="34.3" fill="#000000">Prot-I62/Prot-I62</text>
<text x="450.8" y="2199.8" font-size="34.3" text-anchor="middle" fill="#000000">0.050</text>
<text x="620.6" y="2174.8" font-size="34.3" text-anchor="middle" fill="#000000">0.081</text>
<text x="789.5" y="2174.8" font-size="34.3" text-anchor="middle" fill="#000000">0.044</text>
<text x="1593.2" y="2173.7" font-size="29.85" fill="#000000">0.43 [0.4;0.5]</text>
<text x="1889.6" y="2173.7" font-size="29.65" fill="#000000">2.02e-20</text>
<line x1="935.0" y1="2163.3" x2="962.8" y2="2163.3" stroke="#0a9e76" stroke-width="4.0"/>
<line x1="935.4" y1="2158.4" x2="935.4" y2="2168.2" stroke="#0a9e76" stroke-width="3.4"/>
<line x1="962.4" y1="2158.4" x2="962.4" y2="2168.2" stroke="#0a9e76" stroke-width="3.4"/>
<circle cx="947.2" cy="2163.3" r="8.9" fill="#0a9e76"/>
<text x="620.6" y="2213.9" font-size="34.3" text-anchor="middle" fill="#000000">0.094</text>
<text x="789.5" y="2213.9" font-size="34.3" text-anchor="middle" fill="#000000">0.031</text>
<text x="1593.2" y="2212.5" font-size="29.85" fill="#000000">0.42 [0.3;0.7]</text>
<text x="1889.6" y="2212.5" font-size="29.65" fill="#000000">3.38e-04</text>
<line x1="918.0" y1="2202.3" x2="988.5" y2="2202.3" stroke="#0a9e76" stroke-width="5.6"/>
<line x1="918.4" y1="2197.4" x2="918.4" y2="2207.2" stroke="#0a9e76" stroke-width="3.4"/>
<line x1="988.1" y1="2197.4" x2="988.1" y2="2207.2" stroke="#0a9e76" stroke-width="3.4"/>
<polygon points="934.9,2202.3 945.5,2190.9 956.1,2202.3 945.5,2213.7" fill="#0a9e76"/>
<text x="28.7" y="2278.2" font-size="34.3" fill="#000000">Prot-Del/Prot-Del</text>
<text x="450.8" y="2278.2" font-size="34.3" text-anchor="middle" fill="#000000">0.026</text>
<text x="620.6" y="2253.2" font-size="34.3" text-anchor="middle" fill="#000000">0.040</text>
<text x="789.5" y="2253.2" font-size="34.3" text-anchor="middle" fill="#000000">0.014</text>
<text x="1593.2" y="2252.1" font-size="29.85" fill="#000000">0.38 [0.3;0.5]</text>
<text x="1889.6" y="2252.1" font-size="29.65" fill="#000000">6.75e-22</text>
<line x1="926.2" y1="2241.7" x2="952.8" y2="2241.7" stroke="#0a9e76" stroke-width="4.0"/>
<line x1="926.6" y1="2236.8" x2="926.6" y2="2246.6" stroke="#0a9e76" stroke-width="3.4"/>
<line x1="952.4" y1="2236.8" x2="952.4" y2="2246.6" stroke="#0a9e76" stroke-width="3.4"/>
<circle cx="938.8" cy="2241.7" r="8.9" fill="#0a9e76"/>
<text x="620.6" y="2292.3" font-size="34.3" text-anchor="middle" fill="#000000">0.029</text>
<text x="789.5" y="2292.3" font-size="34.3" text-anchor="middle" fill="#000000">0.010</text>
<text x="1593.2" y="2290.9" font-size="29.85" fill="#000000">0.34 [0.2;0.6]</text>
<text x="1889.6" y="2290.9" font-size="29.65" fill="#000000">2.45e-04</text>
<line x1="906.1" y1="2280.7" x2="977.3" y2="2280.7" stroke="#0a9e76" stroke-width="5.6"/>
<line x1="906.5" y1="2275.8" x2="906.5" y2="2285.6" stroke="#0a9e76" stroke-width="3.4"/>
<line x1="976.9" y1="2275.8" x2="976.9" y2="2285.6" stroke="#0a9e76" stroke-width="3.4"/>
<polygon points="921.4,2280.7 932.0,2269.3 942.6,2280.7 932.0,2292.1" fill="#0a9e76"/>
<line x1="1043.8" y1="1517.0" x2="1043.8" y2="2300.3" stroke="#000" stroke-width="1.1" stroke-dasharray="3.6 2.8"/>
<line x1="679.0" y1="2373.0" x2="735.4" y2="2373.0" stroke="#231f20" stroke-width="2.9"/>
<line x1="679.0" y1="2365.5" x2="679.0" y2="2380.5" stroke="#231f20" stroke-width="2.6"/>
<line x1="735.4" y1="2365.5" x2="735.4" y2="2380.5" stroke="#231f20" stroke-width="2.6"/>
<circle cx="706.9" cy="2373" r="7.5" fill="#231f20"/>
<text x="751.6" y="2384.8" font-size="31.75" fill="#231f21">IAMDGC Cohort</text>
<line x1="1084.1" y1="2373.0" x2="1140.7" y2="2373.0" stroke="#231f20" stroke-width="2.9"/>
<line x1="1084.1" y1="2365.5" x2="1084.1" y2="2380.5" stroke="#231f20" stroke-width="2.6"/>
<line x1="1140.7" y1="2365.5" x2="1140.7" y2="2380.5" stroke="#231f20" stroke-width="2.6"/>
<polygon points="1103.0,2373.0 1112.5,2362.5 1122.0,2373.0 1112.5,2383.5" fill="#231f20"/>
<text x="1156.6" y="2384.8" font-size="31.75" fill="#231f21">Utah &amp; Iowa Cohort</text>
</g>
</svg>
</body>
</html>
